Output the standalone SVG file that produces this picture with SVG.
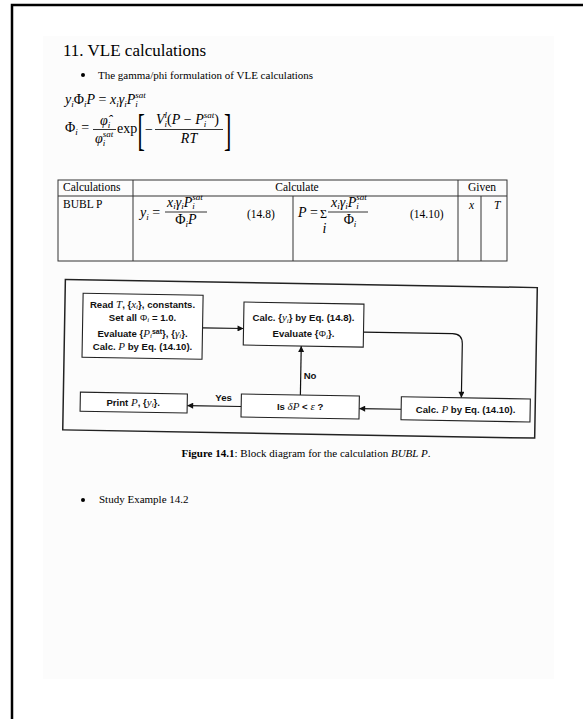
<svg xmlns="http://www.w3.org/2000/svg" width="583" height="719" viewBox="0 0 583 719">
<defs>
<style>
.serif{font-family:"Liberation Serif","Times New Roman",serif;fill:#000}
.mi{font-family:"Liberation Serif","Times New Roman",serif;font-style:italic;font-size:14px;fill:#000}
.up{font-style:normal}
.sb{font-size:9px}
.tb{font-family:"Liberation Serif","Times New Roman",serif;font-size:11.5px;fill:#000}
.fs{font-family:"Liberation Sans",Arial,sans-serif;font-weight:bold;font-size:9.6px;fill:#111}
.v{font-family:"Liberation Serif","Times New Roman",serif;font-style:italic;font-weight:normal;font-size:11px}
.vs{font-size:7px}
.box{fill:#fff;stroke:#222;stroke-width:1.1}
.ln{stroke:#333;stroke-width:1;fill:none}
.conn{stroke:#111;stroke-width:1.2;fill:none}
</style>
<marker id="ah" viewBox="0 0 10 10" refX="10" refY="5" markerWidth="7" markerHeight="6" markerUnits="userSpaceOnUse" orient="auto">
<path d="M0,0 L10,5 L0,10 z" fill="#111"/>
</marker>
</defs>
<rect width="583" height="719" fill="#fff"/>
<rect x="43" y="36" width="511" height="643" fill="#fcfcfc"/>
<path d="M12,719 V5 H583" fill="none" stroke="#000" stroke-width="2.5"/>

<!-- heading -->
<text class="serif" x="63" y="56" font-size="17">11. VLE calculations</text>
<circle cx="83" cy="75" r="2" fill="#000"/>
<text class="serif" x="98" y="79" font-size="11">The gamma/phi formulation of VLE calculations</text>

<!-- equation 1 -->
<text class="mi" x="65" y="104">y<tspan class="sb" dy="3">i</tspan><tspan class="up" dy="-3">Φ</tspan><tspan class="sb" dy="3">i</tspan><tspan dy="-3">P</tspan><tspan class="up"> = </tspan>x<tspan class="sb" dy="3">i</tspan><tspan dy="-3">γ</tspan><tspan class="sb" dy="3">i</tspan><tspan dy="-3">P</tspan><tspan class="sb" dy="3">i</tspan><tspan class="sb" dx="-2.5" dy="-9">sat</tspan></text>

<!-- equation 2 -->
<text class="mi" x="65" y="132"><tspan class="up">Φ</tspan><tspan class="sb" dy="3">i</tspan><tspan class="up" dy="-3"> =</tspan></text>
<text class="mi" x="100" y="125">φ̂<tspan class="sb" dy="3">i</tspan></text>
<line x1="93" y1="129.5" x2="116" y2="129.5" stroke="#000" stroke-width="0.8"/>
<text class="mi" x="95" y="143">φ<tspan class="sb" dy="3">i</tspan><tspan class="sb" dx="-2.5" dy="-9">sat</tspan></text>
<text class="serif" x="117" y="133" font-size="14">exp</text>
<text class="serif" x="0" y="0" font-size="44" transform="translate(137.5,145) scale(0.5,1)">[</text>
<text class="serif" x="145" y="134" font-size="14">−</text>
<text class="mi" x="156" y="124">V<tspan class="sb" dy="3">i</tspan><tspan class="sb" dx="-2.5" dy="-9">l</tspan><tspan class="up" dy="6">(</tspan>P<tspan class="up"> − </tspan>P<tspan class="sb" dy="3">i</tspan><tspan class="sb" dx="-2.5" dy="-9">sat</tspan><tspan class="up" dy="6">)</tspan></text>
<line x1="155" y1="129.5" x2="223" y2="129.5" stroke="#000" stroke-width="0.8"/>
<text class="mi" x="189" y="143" text-anchor="middle">RT</text>
<text class="serif" x="0" y="0" font-size="44" transform="translate(224,145) scale(0.5,1)">]</text>

<!-- table -->
<g id="table">
<rect class="ln" x="58" y="180" width="449" height="81"/>
<line class="ln" x1="58" y1="196" x2="507" y2="196"/>
<line class="ln" x1="133" y1="180" x2="133" y2="261"/>
<line class="ln" x1="458" y1="180" x2="458" y2="261"/>
<line class="ln" x1="481" y1="196" x2="481" y2="261"/>
<line class="ln" x1="293" y1="196" x2="293" y2="261"/>
<text class="tb" x="63" y="191">Calculations</text>
<text class="tb" x="297" y="191" text-anchor="middle">Calculate</text>
<text class="tb" x="482" y="191" text-anchor="middle">Given</text>
<text class="tb" x="63" y="208">BUBL P</text>
<text class="tb" x="469" y="209" font-style="italic">x</text>
<text class="tb" x="494" y="209" font-style="italic">T</text>
<text class="mi" x="140" y="217" font-size="13">y<tspan class="sb" dy="3">i</tspan><tspan class="up" dy="-3"> =</tspan></text>
<text class="mi" x="167" y="206.5" font-size="13">x<tspan class="sb" dy="2.5">i</tspan><tspan dy="-2.5">γ</tspan><tspan class="sb" dy="2.5">i</tspan><tspan dy="-2.5">P</tspan><tspan class="sb" dy="2.5">i</tspan><tspan class="sb" dx="-2.5" dy="-9">sat</tspan></text>
<line x1="165" y1="212" x2="207" y2="212" stroke="#000" stroke-width="0.8"/>
<text class="mi" x="186" y="224" font-size="13" text-anchor="middle"><tspan class="up">Φ</tspan><tspan class="sb" dy="2.5">i</tspan><tspan dy="-2.5">P</tspan></text>
<text class="tb" x="247" y="218">(14.8)</text>
<text class="mi" x="298" y="217" font-size="13">P<tspan class="up"> =</tspan></text>
<text class="serif" x="320" y="217.5" font-size="12">Σ</text>
<text class="mi" x="322.5" y="232.5" font-size="8.5">i</text>
<text class="mi" x="331" y="206.5" font-size="13">x<tspan class="sb" dy="2.5">i</tspan><tspan dy="-2.5">γ</tspan><tspan class="sb" dy="2.5">i</tspan><tspan dy="-2.5">P</tspan><tspan class="sb" dy="2.5">i</tspan><tspan class="sb" dx="-2.5" dy="-9">sat</tspan></text>
<line x1="328" y1="212" x2="368" y2="212" stroke="#000" stroke-width="0.8"/>
<text class="mi" x="350" y="224" font-size="13" text-anchor="middle"><tspan class="up">Φ</tspan><tspan class="sb" dy="2.5">i</tspan></text>
<text class="tb" x="410" y="218">(14.10)</text>
</g>

<!-- flowchart (scanned figure, slightly tilted) -->
<rect x="64" y="283.5" width="472" height="150.5" fill="none" stroke="#222" stroke-width="1.5" transform="rotate(1 300 360)"/>
<g id="connectors">
<g transform="rotate(1 300 360)">
<line class="conn" x1="202" y1="329.5" x2="243" y2="329.5" marker-end="url(#ah)"/>
<path class="conn" d="M363,331 H452 Q462,331 462,341 V395" marker-end="url(#ah)"/>
<line class="conn" x1="402" y1="407.5" x2="360" y2="407.5" marker-end="url(#ah)"/>
<line class="conn" x1="301" y1="395" x2="301" y2="346" marker-end="url(#ah)"/>
<line class="conn" x1="242" y1="407.5" x2="188" y2="407.5" marker-end="url(#ah)"/>
</g>
<text class="fs" x="303.7" y="379">No</text>
<text class="fs" x="215.3" y="401">Yes</text>
</g>
<g id="read">
<rect class="box" x="82" y="297" width="120" height="64" transform="rotate(1 300 360)"/>
<text class="fs" x="142.5" y="308" text-anchor="middle">Read <tspan class="v">T</tspan>, {<tspan class="v">x</tspan><tspan class="v vs" dy="1">i</tspan><tspan dy="-1">}, constants.</tspan></text>
<text class="fs" x="142.5" y="320.5" text-anchor="middle">Set all <tspan font-weight="normal">Φ</tspan><tspan class="v vs" dy="1">i</tspan><tspan dy="-1"> = 1.0.</tspan></text>
<text class="fs" x="142.5" y="337" text-anchor="middle">Evaluate {<tspan class="v">P</tspan><tspan class="v vs" dy="1">i</tspan><tspan class="vs" font-size="6.5" dy="-4.5">sat</tspan><tspan dy="3.5">}, {</tspan><tspan class="v">γ</tspan><tspan class="v vs" dy="1">i</tspan><tspan dy="-1">}.</tspan></text>
<text class="fs" x="142.5" y="349.5" text-anchor="middle">Calc. <tspan class="v">P</tspan> by Eq. (14.10).</text>
</g>
<g id="calcy">
<rect class="box" x="243" y="303" width="120" height="43" transform="rotate(1 300 360)"/>
<text class="fs" x="303.5" y="321" text-anchor="middle">Calc. {<tspan class="v">y</tspan><tspan class="v vs" dy="1.5">i</tspan><tspan dy="-1.5">} by Eq. (14.8).</tspan></text>
<text class="fs" x="303.5" y="337" text-anchor="middle">Evaluate {<tspan font-weight="normal">Φ</tspan><tspan class="v vs" dy="1.5">i</tspan><tspan dy="-1.5">}.</tspan></text>
</g>
<g id="calcp">
<rect class="box" x="402" y="395" width="129" height="23" transform="rotate(1 300 360)"/>
<text class="fs" x="465.6" y="412.9" text-anchor="middle">Calc. <tspan class="v">P</tspan> by Eq. (14.10).</text>
</g>
<g id="check">
<rect class="box" x="242" y="395" width="118" height="23" transform="rotate(1 300 360)"/>
<text class="fs" x="300.1" y="410" text-anchor="middle">Is <tspan class="v">δP</tspan> &lt; <tspan class="v">ε</tspan> ?</text>
</g>
<g id="print">
<rect class="box" x="81" y="396" width="107" height="19" transform="rotate(1 300 360)"/>
<text class="fs" x="133.2" y="405.6" text-anchor="middle">Print <tspan class="v">P</tspan>, {<tspan class="v">y</tspan><tspan class="v vs" dy="1.5">i</tspan><tspan dy="-1.5">}.</tspan></text>
</g>

<!-- caption -->
<text class="serif" x="306" y="457" font-size="11" text-anchor="middle"><tspan font-weight="bold">Figure 14.1</tspan>: Block diagram for the calculation <tspan font-style="italic">BUBL P</tspan>.</text>

<circle cx="83" cy="500" r="2" fill="#000"/>
<text class="serif" x="99" y="503" font-size="11">Study Example 14.2</text>
</svg>
